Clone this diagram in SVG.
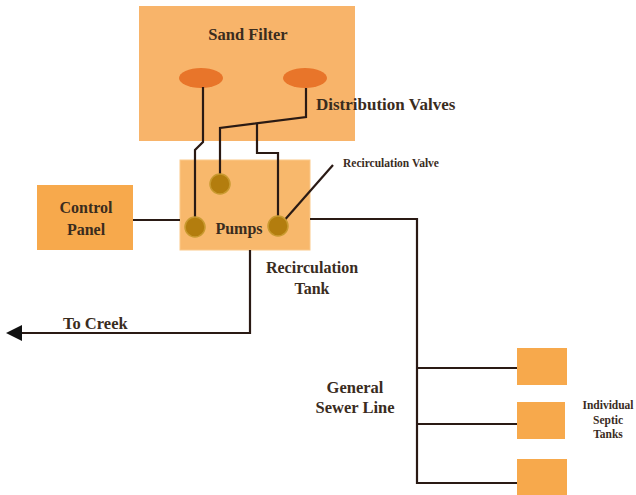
<svg xmlns="http://www.w3.org/2000/svg" width="636" height="495" viewBox="0 0 636 495">
<defs>
<style>
.t{font-family:"Liberation Serif","DejaVu Serif",serif;font-weight:bold;fill:#3a2c1e;}
.ln{fill:none;stroke:#2a1a14;stroke-width:2.2;}
.box{fill:#f7a94c;}
.pump{fill:#b37d0e;stroke:#c99a30;stroke-width:1.5;}
</style>
<marker id="ah" markerWidth="16" markerHeight="16" refX="0" refY="8" orient="auto" markerUnits="userSpaceOnUse">
<path d="M0,0 L16,8 L0,16 Z" fill="#111"/>
</marker>
</defs>
<rect width="636" height="495" fill="#ffffff"/>
<g id="sand-filter">
<rect x="139" y="6" width="216" height="135" fill="#f8b46a"/>
<ellipse cx="201" cy="78" rx="22" ry="10" fill="#e8752a"/>
<ellipse cx="305" cy="78" rx="22" ry="10" fill="#e8752a"/>
<text class="t" x="248" y="40" font-size="16.5" text-anchor="middle">Sand Filter</text>
</g>
<g id="pumps-tank">
<rect x="180" y="160" width="130" height="90" fill="#f8b86c" stroke="#fbc98a" stroke-width="1"/>
<text class="t" x="239" y="234" font-size="16" text-anchor="middle">Pumps</text>
</g>
<g id="control-panel">
<rect x="37" y="185" width="96" height="65" class="box"/>
<text class="t" x="86" y="213" font-size="16" text-anchor="middle">Control</text>
<text class="t" x="86" y="235" font-size="16" text-anchor="middle">Panel</text>
</g>
<g id="septic-tanks">
<rect x="517" y="348" width="50" height="37" class="box"/>
<rect x="517" y="402" width="48" height="37" class="box"/>
<rect x="517" y="459" width="50" height="36" class="box"/>
</g>
<g id="connectors">
<polyline class="ln" points="203,87 203,142 195,150 195,218"/>
<polyline class="ln" points="306,88 306,117 220,128 220,175"/>
<polyline class="ln" points="257,124 257,153 278,153 278,217"/>
<line class="ln" x1="282" y1="223" x2="333" y2="165"/>
<line class="ln" x1="133" y1="220" x2="180" y2="220"/>
<polyline class="ln" points="250,250 250,333 22,333" marker-end="url(#ah)"/>
<polyline class="ln" points="310,219 417,219 417,483 517,483"/>
<line class="ln" x1="417" y1="368" x2="517" y2="368"/>
<line class="ln" x1="417" y1="424" x2="517" y2="424"/>
</g>
<g id="pump-circles">
<circle cx="220" cy="184" r="10" class="pump"/>
<circle cx="195" cy="227" r="10" class="pump"/>
<circle cx="278" cy="226" r="10" class="pump"/>
</g>
<g id="labels">
<text class="t" x="316" y="110" font-size="17">Distribution Valves</text>
<text class="t" x="343" y="167" font-size="11.5" font-weight="normal">Recirculation Valve</text>
<text class="t" x="312" y="273" font-size="16" text-anchor="middle">Recirculation</text>
<text class="t" x="312" y="294" font-size="16" text-anchor="middle">Tank</text>
<text class="t" x="63" y="329" font-size="16.5">To Creek</text>
<text class="t" x="355" y="393" font-size="16.5" text-anchor="middle">General</text>
<text class="t" x="355" y="413" font-size="16.5" text-anchor="middle">Sewer Line</text>
<text class="t" x="608" y="409" font-size="11.5" text-anchor="middle">Individual</text>
<text class="t" x="608" y="424" font-size="11.5" text-anchor="middle">Septic</text>
<text class="t" x="608" y="438" font-size="11.5" text-anchor="middle">Tanks</text>
</g>
</svg>
